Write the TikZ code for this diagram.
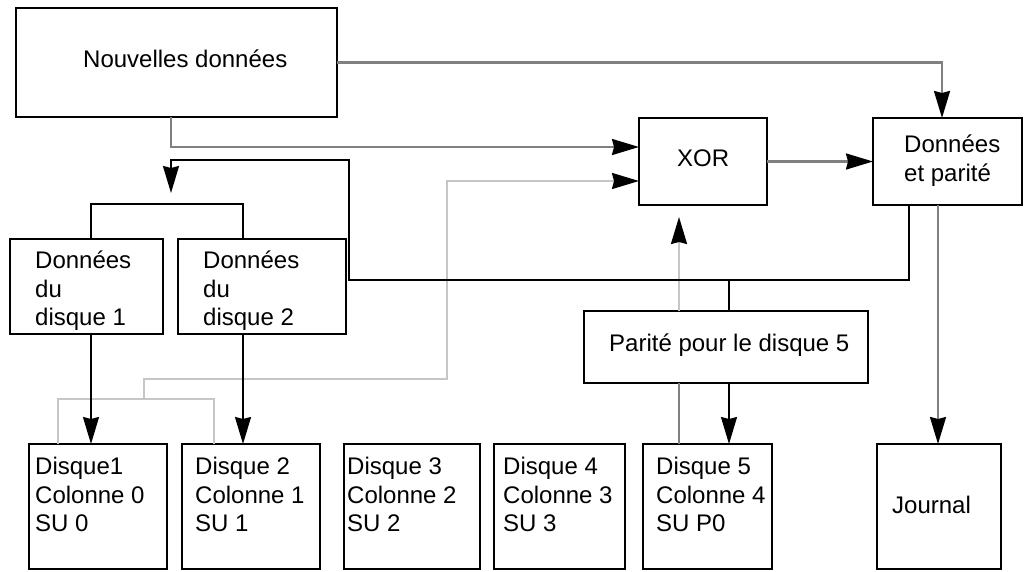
\documentclass[tikz,border=0pt]{standalone}
\usepackage{fontspec}
\setmainfont{Liberation Sans}
\usetikzlibrary{arrows.meta}
\begin{document}
\begin{tikzpicture}[x=1pt,y=-1pt,
  box/.style={draw=black, line width=1.7pt, inner sep=0pt, outer sep=0pt},
  txt/.style={anchor=base west, inner sep=0pt, font=\fontsize{24}{28}\selectfont},
  blk/.style={line width=1.7pt, draw=black},
  gd/.style={line width=2.2pt, draw=gray},
  gl/.style={line width=2pt, draw=gray!45},
  tip/.style={-{Stealth[length=27pt,width=16pt,inset=2pt,color=black]}}]
\useasboundingbox (0,0) rectangle (1032,572);
% boxes
\node[box, minimum width=321pt, minimum height=109pt] (nd) at (176.5,62.5) {};
\node[box, minimum width=128pt, minimum height=87pt] (xor) at (703,161.5) {};
\node[box, minimum width=149pt, minimum height=87pt] (dp) at (947.5,161.5) {};
\node[box, minimum width=153pt, minimum height=95pt] (dd1) at (86.5,286.5) {};
\node[box, minimum width=168pt, minimum height=95pt] (dd2) at (262,286.5) {};
\node[box, minimum width=284pt, minimum height=72pt] (par) at (726,347) {};
\node[box, minimum width=138pt, minimum height=125pt] (d1) at (98,506.5) {};
\node[box, minimum width=138pt, minimum height=125pt] (d2) at (251,506.5) {};
\node[box, minimum width=136pt, minimum height=125pt] (d3) at (412,506.5) {};
\node[box, minimum width=131pt, minimum height=125pt] (d4) at (559.5,506.5) {};
\node[box, minimum width=129pt, minimum height=125pt] (d5) at (707.5,506.5) {};
\node[box, minimum width=124pt, minimum height=125pt] (jr) at (939,506.5) {};
% texts
\node[txt] (tnd) at (83,68) {Nouvelles données};
\node[txt] (txor) at (677,167) {XOR};
\node[txt] (tdp1) at (904,153) {Données};
\node[txt] (tdp2) at (904,182) {et parité};
\node[txt] (ta1) at (35,268) {Données};
\node[txt] (ta2) at (35,297) {du};
\node[txt] (ta3) at (35,325) {disque 1};
\node[txt] (tb1) at (203,268) {Données};
\node[txt] (tb2) at (203,297) {du};
\node[txt] (tb3) at (203,325) {disque 2};
\node[txt] (tpar) at (609,351) {Parité pour le disque 5};
\node[txt] (t11) at (35,474) {Disque1};
\node[txt] (t12) at (35,503) {Colonne 0};
\node[txt] (t13) at (35,531) {SU 0};
\node[txt] (t21) at (195,474) {Disque 2};
\node[txt] (t22) at (195,503) {Colonne 1};
\node[txt] (t23) at (195,531) {SU 1};
\node[txt] (t31) at (347,474) {Disque 3};
\node[txt] (t32) at (347,503) {Colonne 2};
\node[txt] (t33) at (347,531) {SU 2};
\node[txt] (t41) at (503,474) {Disque 4};
\node[txt] (t42) at (503,503) {Colonne 3};
\node[txt] (t43) at (503,531) {SU 3};
\node[txt] (t51) at (656,474) {Disque 5};
\node[txt] (t52) at (656,503) {Colonne 4};
\node[txt] (t53) at (656,531) {SU P0};
\node[txt] (tj) at (892,513) {Journal};
% coordinates
\coordinate (c1) at (942,63);
\coordinate (c2) at (171,147);
\coordinate (c3) at (938,0);
\coordinate (c4) at (909,280);
\coordinate (c5) at (349,160);
\coordinate (c6) at (171,193);
\coordinate (c7) at (729,280);
\coordinate (b1) at (91,204);
\coordinate (b2) at (243,204);
\coordinate (g1) at (58,399);
\coordinate (g2) at (214,399);
\coordinate (g3) at (144,379);
\coordinate (g4) at (447,181);
\coordinate (p1) at (679,217);
% dark gray connectors
\draw[gd,tip] (nd.east) -| (dp.north -| c1);
\draw[gd,tip] (nd.south -| c2) |- (xor.west |- c2);
\draw[gd,tip] (xor.east) -- (dp.west);
\draw[gd,tip] (dp.south -| c3) -- (jr.north -| c3);
\draw[gd] (d5.north -| p1) -- (par.south -| p1);
% light gray connectors
\draw[gl] (d1.north -| g1) -- (g1) -- (g2) -- (d2.north -| g2);
\draw[gl,tip] (g1 -| g3) -- (g3) -- (g3 -| g4) -- (g4) -- (xor.west |- g4);
\draw[gl,tip] (par.north -| p1) -- (p1);
% black connectors
\draw[blk,tip] (dp.south -| c4) -- (c4) -- (c4 -| c5) -- (c5) -- (c5 -| c6) -- (c6);
\draw[blk] (c7) -- (par.north -| c7);
\draw[blk,tip] (par.south -| c7) -- (d5.north -| c7);
\draw[blk] (dd1.north -| b1) -- (b1) -- (b2) -- (dd2.north -| b2);
\draw[blk,tip] (dd1.south -| b1) -- (d1.north -| b1);
\draw[blk,tip] (dd2.south -| b2) -- (d2.north -| b2);
\end{tikzpicture}
\end{document}
